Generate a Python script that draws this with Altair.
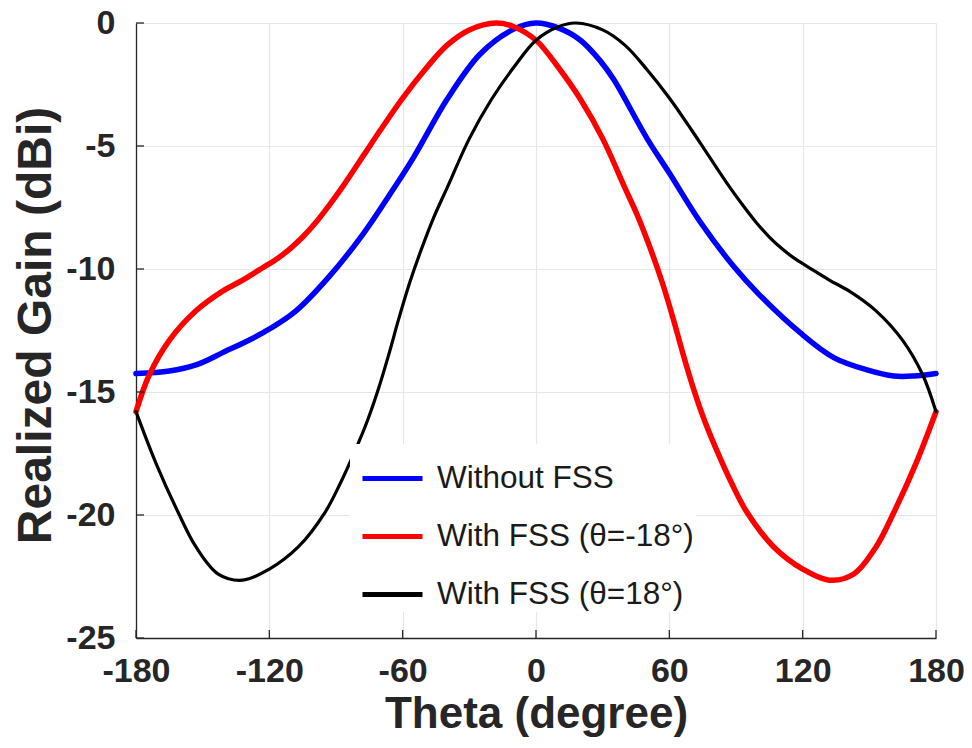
import altair as alt
import pandas as pd

# Realized gain patterns (dBi) versus theta (degree)
theta_without = [-180, -165, -153, -141, -123, -108, -93, -78, -66, -55, -40, -25, -10, 0,
                 10, 20, 29, 35, 50, 60, 74, 89, 100, 119, 134, 149, 161, 170, 180]
gain_without = [-14.25, -14.15, -13.9, -13.4, -12.6, -11.7, -10.3, -8.6, -7.0, -5.45, -3.1, -1.25, -0.25, 0.0,
                -0.2, -0.7, -1.55, -2.3, -4.7, -6.1, -8.1, -9.9, -11.0, -12.6, -13.6, -14.1, -14.35, -14.35, -14.25]

theta_minus18 = [-180, -174, -165, -153, -141, -132, -123, -116, -111, -105, -99, -93, -87, -77, -70, -60, -50,
                 -40, -30, -18, -10, 0, 10, 20, 30, 40, 46, 52, 57, 62, 66, 71, 76, 81, 88, 95, 107, 120, 132,
                 143, 153, 161, 171, 180]
gain_minus18 = [-15.8, -14.3, -12.9, -11.7, -10.9, -10.45, -9.95, -9.55, -9.2, -8.7, -8.1, -7.4, -6.65, -5.3,
                -4.35, -3.05, -1.9, -0.9, -0.28, 0.0, -0.15, -0.7, -1.8, -3.1, -4.7, -6.7, -7.9, -9.3, -10.6,
                -12.1, -13.4, -14.9, -16.2, -17.3, -18.7, -19.9, -21.3, -22.2, -22.65, -22.4, -21.3, -19.9,
                -17.9, -15.8]

theta_plus18 = [-180, -171, -161, -153, -143, -132, -120, -107, -95, -88, -81, -76, -71, -66, -62, -57, -52,
                -46, -40, -30, -20, -10, 0, 10, 18, 30, 40, 50, 60, 70, 77, 87, 93, 99, 105, 111, 116, 123,
                132, 141, 153, 165, 174, 180]
gain_plus18 = [-15.8, -17.9, -19.9, -21.3, -22.4, -22.65, -22.2, -21.3, -19.9, -18.7, -17.3, -16.2, -14.9, -13.4,
               -12.1, -10.6, -9.3, -7.9, -6.7, -4.7, -3.1, -1.8, -0.7, -0.15, 0.0, -0.28, -0.9, -1.9, -3.05,
               -4.35, -5.3, -6.65, -7.4, -8.1, -8.7, -9.2, -9.55, -9.95, -10.45, -10.9, -11.7, -12.9, -14.3,
               -15.8]

series_names = ["Without FSS", "With FSS (θ=-18°)", "With FSS (θ=18°)"]
series_colors = ["#0000ff", "#ff0000", "#000000"]
series_widths = [5.5, 5.5, 3.2]
series_thetas = [theta_without, theta_minus18, theta_plus18]
series_gains = [gain_without, gain_minus18, gain_plus18]

x_ticks = [-180, -120, -60, 0, 60, 120, 180]
y_ticks = [0, -5, -10, -15, -20, -25]

FONT = "Liberation Sans"
xscale = alt.Scale(domain=[-180, 180], nice=False, zero=False)
yscale = alt.Scale(domain=[-25, 0], nice=False, zero=False)
color_scale = alt.Scale(domain=series_names, range=series_colors)
plain_label = "'' + datum.value"  # keeps an ASCII hyphen for negative ticks

x_enc = alt.X("theta:Q", scale=xscale,
              axis=alt.Axis(values=x_ticks, title="Theta (degree)", labelExpr=plain_label,
                            labelPadding=16, titleX=400, titleY=89,
                            titleBaseline="alphabetic", titleFontSize=44))
y_enc = alt.Y("gain:Q", scale=yscale,
              axis=alt.Axis(values=y_ticks, title="Realized Gain (dBi)", labelExpr=plain_label,
                            labelPadding=21, titleX=-86, titleY=302, titleAngle=270,
                            titleAlign="center", titleBaseline="alphabetic",
                            titleFontSize=48))
legend = alt.Legend(orient="none", legendX=214, legendY=421, title=None,
                    symbolType="stroke", symbolSize=3600,
                    symbolStrokeWidth=5, symbolOffset=8,
                    labelFont=FONT, labelFontSize=31.5,
                    labelColor="#1a1a1a", labelOffset=12,
                    labelLimit=400, rowPadding=10, padding=2,
                    fillColor="white")

# one smooth line layer per series so each keeps its own stroke width
line_layers = []
for name, th, g, w in zip(series_names, series_thetas, series_gains, series_widths):
    sdf = pd.DataFrame({"theta": th, "gain": g, "series": name})
    line_layers.append(
        alt.Chart(sdf).mark_line(interpolate="catmull-rom", strokeWidth=w, strokeCap="round",
                                 strokeJoin="round").encode(
            x=x_enc, y=y_enc,
            color=alt.Color("series:N", scale=color_scale, legend=legend),
        )
    )

# inward tick marks on the bottom and left axes
xt_df = pd.DataFrame({"theta": x_ticks})
yt_df = pd.DataFrame({"gain": y_ticks})

x_tick_marks = alt.Chart(xt_df).mark_rule(color="#262626", strokeWidth=1.3).encode(
    x=alt.X("theta:Q", scale=xscale),
    y=alt.datum(-25, scale=yscale),
    y2=alt.datum(-24.67),
)
y_tick_marks = alt.Chart(yt_df).mark_rule(color="#262626", strokeWidth=1.3).encode(
    y=alt.Y("gain:Q", scale=yscale),
    x=alt.datum(-180, scale=xscale),
    x2=alt.datum(-176.4),
)

chart = alt.layer(*line_layers, x_tick_marks, y_tick_marks).properties(
    width=800, height=615,
    autosize=alt.AutoSizeParams(type="none"),
    padding={"left": 136, "top": 23, "right": 36, "bottom": 110},
    background="white",
).configure_view(stroke=None).configure_axis(
    grid=True, gridColor="#e6e6e6", gridWidth=1.2,
    domainColor="#262626", domainWidth=1.3,
    ticks=False,
    labelFont=FONT, labelFontSize=34, labelFontWeight="bold", labelColor="#262626",
    titleFont=FONT, titleFontWeight="bold", titleColor="#262626",
    labelFlush=False, labelOverlap=False,
)

chart.save("out.html", embed_options={"renderer": "svg", "actions": False})
